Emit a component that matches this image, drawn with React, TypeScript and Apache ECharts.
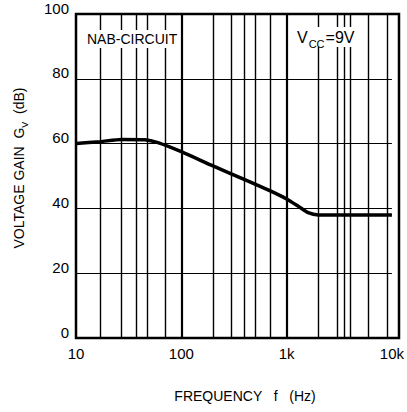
import React, { useEffect, useRef } from "react";
import * as echarts from "echarts";

const freqHz = [10, 17, 27, 45, 60, 100, 200, 400, 700, 1000, 1300, 1600, 2000, 5000, 10000];
const gainDb = [60, 60.6, 61.3, 61.2, 60.3, 57.5, 53.1, 48.9, 45.4, 42.9, 40.6, 38.7, 38, 38, 38];
const minorGridHz = [17, 27, 37, 47, 70, 200, 300, 400, 500, 700, 2000, 3000, 3500, 4000, 6000, 9000];
const majorGridHz = [100, 1000];

const FONT = "Liberation Sans, Arial, Helvetica, sans-serif";

export default function App() {
  const ref = useRef<HTMLDivElement>(null);
  useEffect(() => {
    if (!ref.current) return;
    const chart = echarts.init(ref.current, null, { renderer: "svg" });
    const xLabel = (v: number) => {
      if (v === 10) return "10";
      if (v === 100) return "100";
      if (v === 1000) return "1k";
      if (v === 10000) return "10k";
      return "";
    };
    chart.setOption({
      animation: false,
      backgroundColor: "#ffffff",
      grid: { left: 76, right: 8, top: 14, bottom: 74, containLabel: false },
      xAxis: {
        type: "log",
        logBase: 10,
        min: 10,
        max: 10000,
        axisLine: { show: false },
        axisTick: { show: false },
        splitLine: { show: false },
        axisLabel: {
          formatter: xLabel,
          color: "#000",
          fontFamily: FONT,
          fontSize: 15,
          margin: 8,
          showMaxLabel: true,
          showMinLabel: true,
        },
      },
      yAxis: {
        type: "value",
        min: 0,
        max: 100,
        interval: 20,
        axisLine: { show: false },
        axisTick: { show: false },
        splitLine: { show: true, lineStyle: { color: "#000", width: 1.2 } },
        axisLabel: {
          color: "#000",
          fontFamily: FONT,
          fontSize: 15,
          margin: 7,
          verticalAlign: "bottom",
          lineHeight: 12,
        },
      },
      series: [
        {
          type: "line",
          data: freqHz.map((f, i) => [f, gainDb[i]]),
          smooth: 0.2,
          showSymbol: false,
          symbol: "none",
          lineStyle: { color: "#000", width: 3.5 },
          z: 5,
          markLine: {
            silent: true,
            symbol: "none",
            label: { show: false },
            data: [
              ...minorGridHz.map((v) => ({ xAxis: v, lineStyle: { color: "#000", width: 1.4, type: "solid" } })),
              ...majorGridHz.map((v) => ({ xAxis: v, lineStyle: { color: "#000", width: 2.2, type: "solid" } })),
            ],
          },
        },
      ],
      graphic: [
        {
          type: "rect",
          shape: { x: 76, y: 14, width: 323, height: 324 },
          style: { fill: "none", stroke: "#000", lineWidth: 2.5 },
          z: 10,
        },
        {
          type: "text",
          x: 86,
          y: 39,
          style: {
            text: "NAB-CIRCUIT",
            font: `14px ${FONT}`,
            fill: "#000",
            verticalAlign: "middle",
            align: "left",
            backgroundColor: "#fff",
            padding: [2, 1, 2, 1],
          },
          z: 11,
        },
        {
          type: "text",
          x: 296,
          y: 37,
          style: {
            text: "{v|V}{s|CC}{v|=9V}",
            fill: "#000",
            verticalAlign: "middle",
            align: "left",
            backgroundColor: "#fff",
            padding: [2, 2, 2, 1],
            rich: {
              v: { font: `16px ${FONT}`, fill: "#000", verticalAlign: "bottom" },
              s: { font: `11px ${FONT}`, fill: "#000", verticalAlign: "bottom", padding: [0, 1, -4, 1] },
            },
          },
          z: 11,
        },
        {
          type: "text",
          x: 19,
          y: 168,
          rotation: Math.PI / 2,
          style: {
            text: "{t|VOLTAGE GAIN  G}{s|V}{t|  (dB)}",
            fill: "#000",
            align: "center",
            verticalAlign: "middle",
            rich: {
              t: { font: `14px ${FONT}`, fill: "#000", verticalAlign: "bottom" },
              s: { font: `9px ${FONT}`, fill: "#000", verticalAlign: "bottom", padding: [0, 0, -3, 0] },
            },
          },
        },
        {
          type: "text",
          x: 245,
          y: 396,
          style: {
            text: "FREQUENCY   f   (Hz)",
            font: `14px ${FONT}`,
            fill: "#000",
            align: "center",
            verticalAlign: "middle",
          },
        },
      ],
    });
    return () => chart.dispose();
  }, []);
  return <div ref={ref} style={{ width: 407, height: 412, position: "absolute", left: 0, top: 0 }} />;
}
